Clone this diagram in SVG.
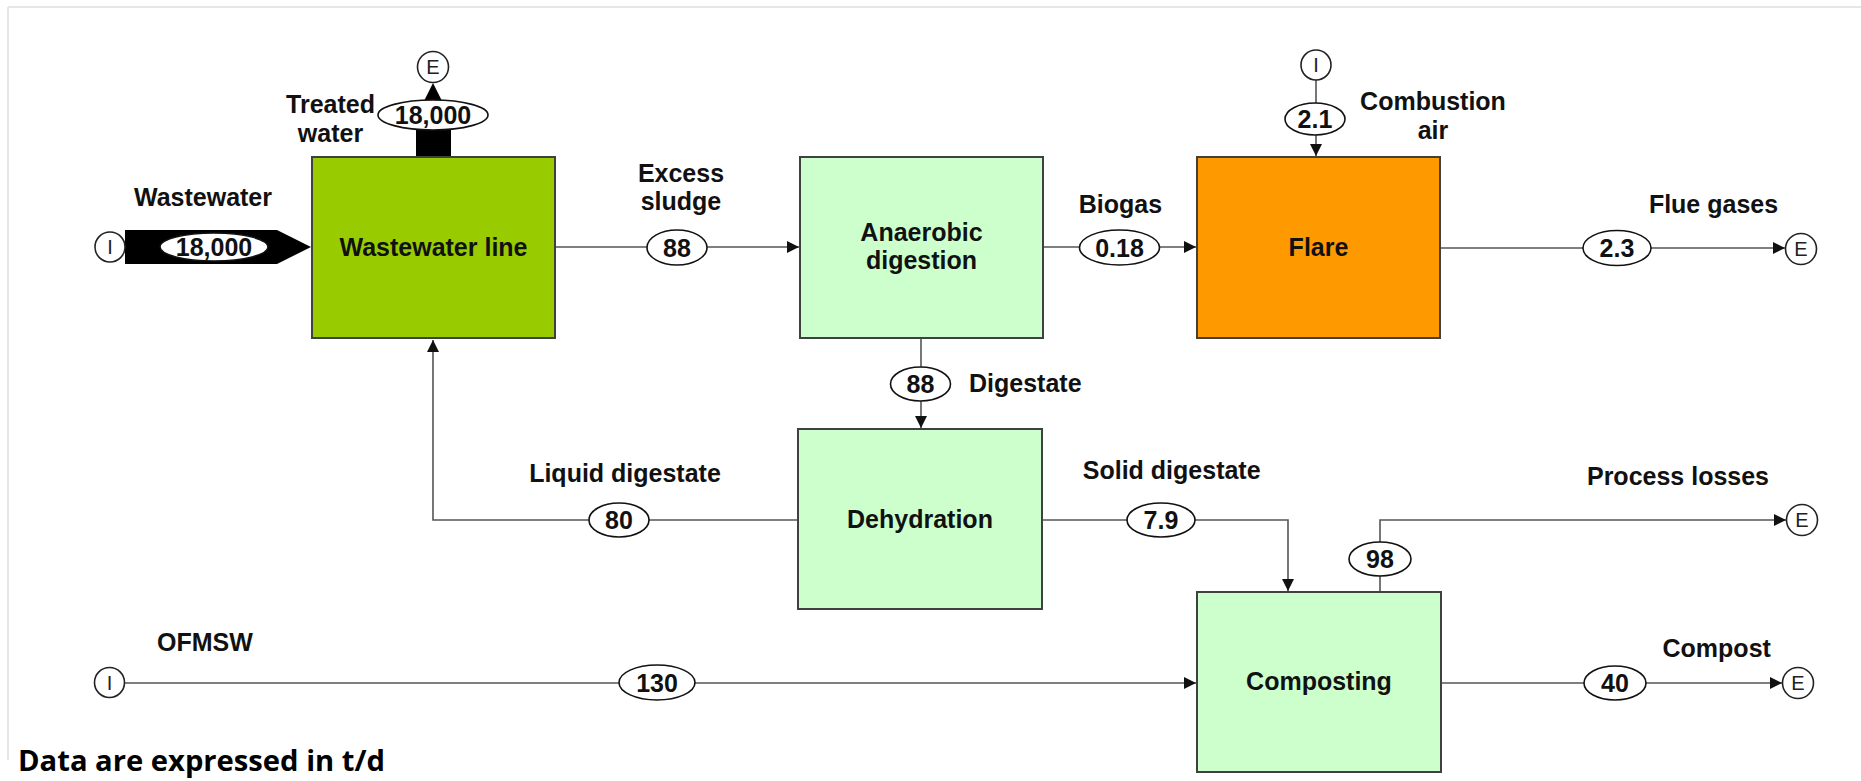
<svg xmlns="http://www.w3.org/2000/svg" width="1861" height="781" viewBox="0 0 1861 781">
<style>
.box{stroke:#404040;stroke-width:2}
.lbl{font-family:"Liberation Sans",Arial,sans-serif;font-weight:bold;font-size:25px;fill:#111}
.mid{text-anchor:middle}
.val{fill:#fff;stroke:#111;stroke-width:1.6}
.term{fill:#fff;stroke:#222;stroke-width:1.6}
.tl{font-family:"Liberation Sans",Arial,sans-serif;font-size:20px;fill:#222;text-anchor:middle}
.ln{fill:none;stroke:#555;stroke-width:1.6}
</style>
<defs>
<marker id="ah" markerUnits="userSpaceOnUse" markerWidth="12" markerHeight="12" viewBox="0 0 12 12" refX="12" refY="6" orient="auto">
<path d="M0,0 L12,6 L0,12 Z" fill="#111"/>
</marker>
</defs>
<rect width="1861" height="781" fill="#fff"/>
<path d="M8,7 H1861 M8,7 V760" fill="none" stroke="#dedede" stroke-width="1.5"/>

<g id="connectors">
<line class="ln" x1="556" y1="247" x2="799" y2="247" marker-end="url(#ah)"/>
<line class="ln" x1="1044" y1="247" x2="1196" y2="247" marker-end="url(#ah)"/>
<line class="ln" x1="1441" y1="248" x2="1785" y2="248" marker-end="url(#ah)"/>
<line class="ln" x1="1316" y1="80" x2="1316" y2="156" marker-end="url(#ah)"/>
<line class="ln" x1="921" y1="339" x2="921" y2="428" marker-end="url(#ah)"/>
<polyline class="ln" points="798,520 433,520 433,340" marker-end="url(#ah)"/>
<polyline class="ln" points="1042,520 1288,520 1288,591" marker-end="url(#ah)"/>
<polyline class="ln" points="1380,592 1380,520 1786,520" marker-end="url(#ah)"/>
<line class="ln" x1="125" y1="683" x2="1196" y2="683" marker-end="url(#ah)"/>
<line class="ln" x1="1441" y1="683" x2="1782" y2="683" marker-end="url(#ah)"/>
<!-- thick flows -->
<polygon points="125,230 277,230 311,247 277,264 125,264" fill="#000"/>
<rect x="416" y="118" width="35" height="40" fill="#000"/>
<polygon points="424,101 433,83 442,101" fill="#000"/>
</g>

<g id="flow-values">
<ellipse class="val" cx="214" cy="247" rx="54" ry="14"/>
<text class="lbl mid" x="214" y="256">18,000</text>
<ellipse class="val" cx="433" cy="115" rx="55" ry="15"/>
<text class="lbl mid" x="433" y="124">18,000</text>
<ellipse class="val" cx="677" cy="247.5" rx="30" ry="17.5"/>
<text class="lbl mid" x="677" y="256.5">88</text>
<ellipse class="val" cx="1119.5" cy="247.5" rx="40" ry="17.5"/>
<text class="lbl mid" x="1119.5" y="256.5">0.18</text>
<ellipse class="val" cx="1315" cy="119" rx="30" ry="16"/>
<text class="lbl mid" x="1315" y="128">2.1</text>
<ellipse class="val" cx="1617" cy="248" rx="34" ry="17.5"/>
<text class="lbl mid" x="1617" y="257">2.3</text>
<ellipse class="val" cx="920.5" cy="384" rx="30" ry="17"/>
<text class="lbl mid" x="920.5" y="393">88</text>
<ellipse class="val" cx="619" cy="520" rx="30" ry="17"/>
<text class="lbl mid" x="619" y="529">80</text>
<ellipse class="val" cx="1161" cy="520" rx="34" ry="17"/>
<text class="lbl mid" x="1161" y="529">7.9</text>
<ellipse class="val" cx="1380" cy="559" rx="31" ry="17"/>
<text class="lbl mid" x="1380" y="568">98</text>
<ellipse class="val" cx="657" cy="682.5" rx="38" ry="17.5"/>
<text class="lbl mid" x="657" y="691.5">130</text>
<ellipse class="val" cx="1615" cy="683" rx="31" ry="17"/>
<text class="lbl mid" x="1615" y="692">40</text>
</g>

<g id="terminals">
<circle class="term" cx="110" cy="247" r="15"/><text class="tl" x="110" y="254">I</text>
<circle class="term" cx="433" cy="67" r="15.5"/><text class="tl" x="433" y="74">E</text>
<circle class="term" cx="1316" cy="65" r="15"/><text class="tl" x="1316" y="72">I</text>
<circle class="term" cx="1801" cy="249" r="15.5"/><text class="tl" x="1801" y="256">E</text>
<circle class="term" cx="1802" cy="520" r="15.5"/><text class="tl" x="1802" y="527">E</text>
<circle class="term" cx="109.5" cy="682.5" r="15"/><text class="tl" x="109.5" y="689.5">I</text>
<circle class="term" cx="1798" cy="683" r="15.5"/><text class="tl" x="1798" y="690">E</text>
</g>

<g id="wastewater-line">
<rect class="box" x="312" y="157" width="243" height="181" fill="#99cc00"/>
<text class="lbl mid" x="433.5" y="256">Wastewater line</text>
</g>
<g id="anaerobic-digestion">
<rect class="box" x="800" y="157" width="243" height="181" fill="#ccffcc"/>
<text class="lbl mid" x="921.5" y="241">Anaerobic</text>
<text class="lbl mid" x="921.5" y="269">digestion</text>
</g>
<g id="flare">
<rect class="box" x="1197" y="157" width="243" height="181" fill="#ff9900"/>
<text class="lbl mid" x="1318.5" y="256">Flare</text>
</g>
<g id="dehydration">
<rect class="box" x="798" y="429" width="244" height="180" fill="#ccffcc"/>
<text class="lbl mid" x="920" y="528">Dehydration</text>
</g>
<g id="composting">
<rect class="box" x="1197" y="592" width="244" height="180" fill="#ccffcc"/>
<text class="lbl mid" x="1319" y="690">Composting</text>
</g>

<g id="flow-labels">
<text class="lbl mid" x="330.5" y="112.7">Treated</text>
<text class="lbl mid" x="330.5" y="141.7">water</text>
<text class="lbl mid" x="203" y="205.7">Wastewater</text>
<text class="lbl mid" x="681" y="181.7">Excess</text>
<text class="lbl mid" x="681" y="210">sludge</text>
<text class="lbl mid" x="1120.5" y="213">Biogas</text>
<text class="lbl mid" x="1433" y="109.5">Combustion</text>
<text class="lbl mid" x="1433" y="138.5">air</text>
<text class="lbl mid" x="1713.5" y="213">Flue gases</text>
<text class="lbl" x="969" y="391.7">Digestate</text>
<text class="lbl mid" x="625" y="482">Liquid digestate</text>
<text class="lbl mid" x="1171.7" y="479">Solid digestate</text>
<text class="lbl mid" x="1678" y="485">Process losses</text>
<text class="lbl mid" x="205" y="650.7">OFMSW</text>
<text class="lbl mid" x="1716.7" y="656.7">Compost</text>
</g>

<text x="18" y="771" textLength="367" lengthAdjust="spacingAndGlyphs" style="font-family:'Open Sans','Noto Sans',sans-serif;font-weight:bold;font-size:28px;fill:#000">Data are expressed in t/d</text>
</svg>
